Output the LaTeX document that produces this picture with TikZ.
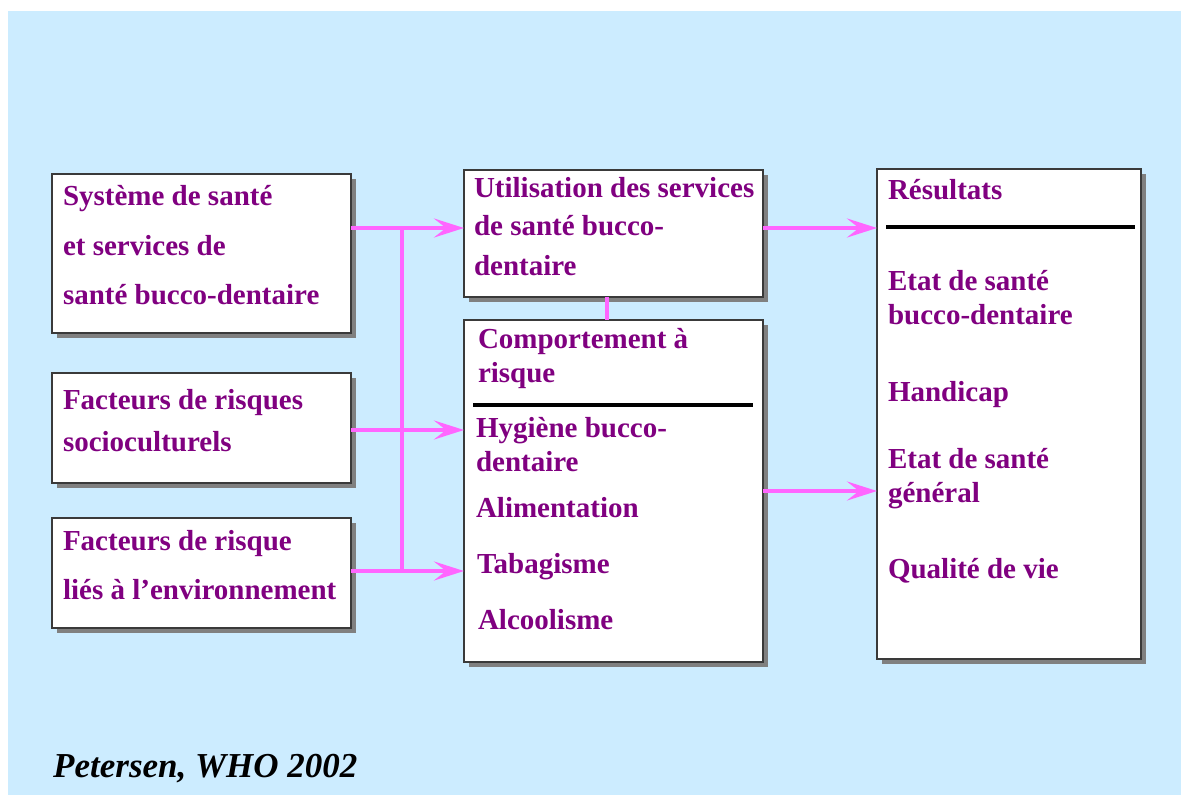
\documentclass[tikz,border=0pt]{standalone}
\usepackage{fontspec}
\setmainfont{Liberation Serif}
\usetikzlibrary{arrows.meta,shadows}
\definecolor{skyback}{HTML}{CCECFF}
\definecolor{labelpurple}{HTML}{800080}
\definecolor{linkpink}{HTML}{FF66FF}
\definecolor{shadowgray}{HTML}{808080}
\definecolor{rimgray}{HTML}{3A3A3A}
\tikzset{
  box/.style={draw=rimgray, line width=1.3pt, fill=white, anchor=north west,
    inner sep=0pt, outer sep=0pt,
    drop shadow={shadow xshift=5pt, shadow yshift=-5pt, fill=shadowgray, opacity=1}},
  txt/.style={anchor=base west, inner sep=0pt, outer sep=0pt, text=labelpurple,
    font=\fontsize{29}{34}\selectfont\bfseries},
  rule/.style={line width=4.5pt, black},
  link/.style={draw=linkpink, line width=4pt},
  arrowlink/.style={link, -{Stealth[length=30pt, width=19pt, inset=12pt]}},
}
\begin{document}
\begin{tikzpicture}[x=1pt, y=-1pt]
  % canvas and light blue panel
  \useasboundingbox (0,0) rectangle (1181,795);
  \fill[white] (0,0) rectangle (1181,795);
  \fill[skyback] (8,11) rectangle (1181,795);

  % left column: determinants
  \node[box, minimum width=299pt, minimum height=159pt] (sys) at (52,174) {};
  \node[box, minimum width=299pt, minimum height=110pt] (soc) at (52,373) {};
  \node[box, minimum width=299pt, minimum height=110pt] (env) at (52,518) {};

  % middle column
  \node[box, minimum width=299pt, minimum height=127pt] (use) at (464,170) {};
  \node[box, minimum width=299pt, minimum height=342pt] (beh) at (464,320) {};

  % right column: outcomes
  \node[box, minimum width=264pt, minimum height=490pt] (res) at (877,169) {};

  % separators
  \draw[rule] (473,405) -- (753,405);
  \draw[rule] (886,227) -- (1135,227);

  % labels, left column
  \node[txt] (sys1) at (63,205) {Système de santé};
  \node[txt] (sys2) at (63,255) {et services de};
  \node[txt] (sys3) at (63,304) {santé bucco-dentaire};
  \node[txt] (soc1) at (63,409) {Facteurs de risques};
  \node[txt] (soc2) at (63,451) {socioculturels};
  \node[txt] (env1) at (63,550) {Facteurs de risque};
  \node[txt] (env2) at (63,599) {liés à l’environnement};

  % labels, middle column
  \node[txt] (use1) at (474,197) {Utilisation des services};
  \node[txt] (use2) at (474,235) {de santé bucco-};
  \node[txt] (use3) at (474,275) {dentaire};
  \node[txt] (beh1) at (478,348) {Comportement à};
  \node[txt] (beh2) at (478,382) {risque};
  \node[txt] (beh3) at (476,437) {Hygiène bucco-};
  \node[txt] (beh4) at (476,471) {dentaire};
  \node[txt] (beh5) at (476,517) {Alimentation};
  \node[txt] (beh6) at (477,573) {Tabagisme};
  \node[txt] (beh7) at (478,629) {Alcoolisme};

  % labels, right column
  \node[txt] (res1) at (888,199) {Résultats};
  \node[txt] (res2) at (888,290) {Etat de santé};
  \node[txt] (res3) at (888,324) {bucco-dentaire};
  \node[txt] (res4) at (888,401) {Handicap};
  \node[txt] (res5) at (888,468) {Etat de santé};
  \node[txt] (res6) at (888,502) {général};
  \node[txt] (res7) at (888,578) {Qualité de vie};

  % source
  \node[anchor=base west, inner sep=0pt, font=\fontsize{35}{40}\selectfont\bfseries\itshape]
    (src) at (53,777) {Petersen, WHO 2002};

  % junction points of the connectors
  \coordinate (jtop) at (402,228);
  \coordinate (jmid) at (402,430);
  \coordinate (jbot) at (402,571);
  \coordinate (rtop) at (0,228);
  \coordinate (rbot) at (0,491);

  % connectors
  \draw[link] (jtop) -- (jbot);
  \draw[arrowlink] (sys.east |- jtop) -- (use.west |- jtop);
  \draw[arrowlink] (soc.east |- jmid) -- (beh.west |- jmid);
  \draw[arrowlink] (env.east |- jbot) -- (beh.west |- jbot);
  \draw[link] (use.south -| 607,0) -- (beh.north -| 607,0);
  \draw[arrowlink] (use.east |- rtop) -- (res.west |- rtop);
  \draw[arrowlink] (beh.east |- rbot) -- (res.west |- rbot);
\end{tikzpicture}
\end{document}
